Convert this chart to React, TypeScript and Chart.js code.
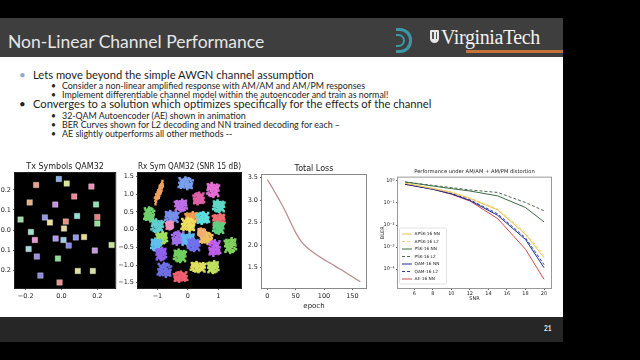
import React, { useEffect, useRef } from "react";
import { Chart, registerables } from "chart.js";
Chart.register(...registerables);

const MPL_FONT = "'DejaVu Sans', sans-serif";

// ---------- Slide text ----------
const SLIDE_TITLE = "Non-Linear Channel Performance";
const SLIDE_NUMBER = "21";
const BULLETS: [number, number, string][] = [
  [0, 75, "Lets move beyond the simple AWGN channel assumption"],
  [1, 86, "Consider a non-linear amplified response with AM/AM and AM/PM responses"],
  [1, 95, "Implement differentiable channel model within the autoencoder and train as normal!"],
  [0, 104, "Converges to a solution which optimizes specifically for the effects of the channel"],
  [1, 116, "32-QAM Autoencoder (AE) shown in animation"],
  [1, 125, "BER Curves shown for L2 decoding and NN trained decoding for each \u2013"],
  [1, 134, "AE slightly outperforms all other methods --"],
];

// ---------- Tx symbols ----------
const TX_X = [-0.015, -0.142, 0.029, 0.167, 0.071, -0.178, -0.035, 0.193, -0.229, -0.093, -0.065, 0.024, 0.087, 0.2, 0.2, 0.014, -0.171, -0.149, -0.033, 0.011, 0.08, 0.126, 0.04, -0.184, 0.28, 0.186, -0.138, -0.02, 0.091, 0.175, -0.118, -0.011];
const TX_Y = [0.255, 0.225, 0.232, 0.217, 0.168, 0.138, 0.127, 0.128, 0.052, 0.063, 0.038, 0.042, 0.07, 0.065, 0.032, 0.007, -0.01, -0.05, -0.043, -0.05, -0.037, -0.035, -0.078, -0.095, -0.075, -0.103, -0.133, -0.143, -0.205, -0.205, -0.228, -0.262];
const TX_COLORS = ["#8ab0e8", "#e8a090", "#d8e890", "#e890b8", "#e88898", "#e8b080", "#c890e0", "#90e0b0", "#a0d8a0", "#9098e8", "#e8e098", "#e89080", "#90e0d0", "#e88080", "#98e098", "#e8d8a0", "#a0e0c8", "#e898d0", "#b098e8", "#a0c8e8", "#9898e8", "#e8d890", "#8888e8", "#a0d8e0", "#c8e098", "#c898e0", "#9890e0", "#90d898", "#e0e0a0", "#d0e0a0", "#9088e0", "#e89090"];
const TX_X_TICKS = [-0.2, 0, 0.2];
const TX_Y_TICKS = [-0.2, -0.1, 0, 0.1, 0.2];

// ---------- Rx symbols (cluster centres) ----------
const RX_CX = [-0.07, 0.83, -0.95, 0.36, -0.23, 1.02, -1.27, -0.53, 0.12, 0.5, 1.02, 1.01, 0.01, -1.0, -0.86, -0.32, 0.01, 0.2, 0.61, -1.04, -0.88, 0.88, 1.4, -0.26, -0.77, 0.34, 0.83, -0.24, -0.6, 0.45];
const RX_CY = [1.31, 1.12, 1.05, 0.88, 0.68, 0.66, 0.43, 0.36, 0.33, 0.33, 0.28, 0.05, 0.14, 0.1, -0.24, -0.24, -0.28, -0.43, -0.24, -0.43, -0.69, -0.52, -0.45, -0.74, -1.14, -1.06, -1.06, -1.33, 0.12, -0.08];
const RX_COLORS = ["#7aa0f0", "#e870d8", "#f0a060", "#e060a8", "#c070e8", "#60d8c8", "#70d070", "#7890f0", "#f0a050", "#60e0e0", "#f07070", "#60d080", "#f0e060", "#60d0d0", "#a0e060", "#a070f0", "#60b8f0", "#7070f0", "#f0c060", "#60c0f0", "#9060f0", "#c060f0", "#80d060", "#70d060", "#7070e8", "#e0e060", "#c0e060", "#f06070", "#f090c0", "#f0b070"];
const RX_SX = [0.21, 0.18, 0.12, 0.16, 0.18, 0.17, 0.15, 0.2, 0.18, 0.18, 0.18, 0.16, 0.2, 0.18, 0.16, 0.18, 0.19, 0.18, 0.18, 0.15, 0.15, 0.17, 0.17, 0.18, 0.2, 0.22, 0.16, 0.2, 0.1, 0.1];
const RX_SY = [0.15, 0.18, 0.13, 0.15, 0.15, 0.15, 0.18, 0.15, 0.15, 0.15, 0.15, 0.15, 0.17, 0.17, 0.15, 0.17, 0.16, 0.16, 0.15, 0.16, 0.16, 0.2, 0.19, 0.16, 0.18, 0.13, 0.15, 0.13, 0.1, 0.1];
const RX_SHEAR = [0, 0, 0.22, 0, 0, 0, 0, 0, 0, 0, 0, 0, 0, 0, 0, 0, 0, 0, 0, 0, 0, 0, 0, 0, 0, 0, 0, 0, 0, 0];
const RX_NOISE: [number, number][] = [[0, 0], [0.5, 0.2], [-0.4, 0.3], [0.2, -0.6], [-0.7, -0.2], [0.8, -0.4], [-0.2, 0.8], [0.3, 0.5], [-0.5, -0.6], [0.9, 0.3], [-0.9, 0.5], [0.1, -0.9], [0.6, 0.8], [-0.3, -0.3], [0.4, -0.2], [-0.6, 0.1], [0.0, 0.4], [0.7, -0.8], [-0.8, -0.7], [0.2, 0.9], [-0.1, -0.5], [1.0, 0.0], [-1.0, -0.1], [0.5, -0.7], [-0.4, 0.7], [0.3, 0.1], [-0.2, 0.2], [0.6, 0.4], [-0.6, -0.4], [0.1, 0.6], [0.85, 0.65], [-0.75, 0.85], [0.45, -0.95], [-0.15, -0.85], [0.15, -0.25], [-0.45, -0.05], [0.35, 0.75], [-0.85, 0.25], [0.7, 0.1], [-0.3, -0.75], [0.05, 0.25], [-0.55, 0.5], [1.1, -0.55], [-1.1, 0.7], [0.25, 1.1], [-0.05, -1.1], [0.95, 0.9], [-0.95, -0.95]];
const RX_X_TICKS = [-1, 0, 1];
const RX_Y_TICKS = [-1.5, -1, -0.5, 0, 0.5, 1, 1.5];

// ---------- Total loss ----------
const LOSS_EPOCH = [0, 10, 20, 30, 40, 50, 60, 70, 80, 90, 100, 110, 120, 130, 140, 150, 160, 164];
const LOSS_VALUE = [3.46, 3.25, 3.03, 2.8, 2.54, 2.28, 2.08, 1.95, 1.85, 1.76, 1.68, 1.61, 1.53, 1.46, 1.38, 1.3, 1.22, 1.19];
const LOSS_X_TICKS = [0, 50, 100, 150];
const LOSS_Y_TICKS = [1.5, 2, 2.5, 3, 3.5];

// ---------- BLER curves ----------
const SNR = [5, 8, 10, 12, 15, 18, 20];
const APSK_NN = [0.79, 0.45, 0.3, 0.16, 0.048, 0.0038, 0.00033];
const APSK_L2 = [0.79, 0.46, 0.32, 0.17, 0.054, 0.0045, 0.00042];
const PSK_NN = [0.9, 0.59, 0.45, 0.35, 0.21, 0.062, 0.0138];
const PSK_L2 = [0.9, 0.63, 0.5, 0.39, 0.3, 0.105, 0.044];
const QAM_NN = [0.71, 0.42, 0.26, 0.13, 0.0275, 0.0022, 0.000115];
const QAM_L2 = [0.71, 0.43, 0.275, 0.14, 0.032, 0.0026, 0.00016];
const AE_NN = [0.71, 0.42, 0.25, 0.123, 0.0195, 0.00079, 0.000034];
const SNR_TICKS = [6, 8, 10, 12, 14, 16, 18, 20];
const BLER_TICKS = [1, 0.1, 0.01, 0.001, 0.0001];
const BLER_TICK_LABELS = ["10\u2070", "10\u207B\u00B9", "10\u207B\u00B2", "10\u207B\u00B3", "10\u207B\u2074"];

// ---------- helpers ----------
const minus = (s: string) => s.replace("-", "\u2212");
const fmt1 = (v: number) => minus(v.toFixed(1));
const fmt0 = (v: number) => minus(String(Math.round(v)));

function axis(o: any) {
  return {
    type: o.type || "linear",
    min: o.min,
    max: o.max,
    afterBuildTicks: (s: any) => {
      s.ticks = o.ticks.map((v: number) => ({ value: v }));
    },
    afterFit: (s: any) => {
      if (o.horizontal) s.height = o.size;
      else s.width = o.size;
    },
    ticks: {
      autoSkip: false,
      maxRotation: 0,
      minRotation: 0,
      padding: o.pad ?? 2,
      color: "#262626",
      font: { family: MPL_FONT, size: o.fontSize },
      callback: (v: any) => o.label(Number(v)),
    },
    grid: { display: true, drawOnChartArea: false, drawTicks: true, tickLength: o.tickLength ?? 2, tickColor: "#333", lineWidth: 0.8 },
    border: { display: false },
    title: o.title
      ? { display: true, text: o.title, color: "#262626", font: { family: MPL_FONT, size: o.titleSize }, padding: o.titlePadding }
      : { display: false },
  };
}

function framePlugin(id: string, bg: string, frame: string) {
  return {
    id,
    beforeDatasetsDraw(chart: any) {
      const { ctx, chartArea: a } = chart;
      ctx.save();
      ctx.fillStyle = bg;
      ctx.fillRect(a.left, a.top, a.right - a.left, a.bottom - a.top);
      ctx.restore();
    },
    afterDatasetsDraw(chart: any) {
      const { ctx, chartArea: a } = chart;
      ctx.save();
      ctx.strokeStyle = frame;
      ctx.lineWidth = 1;
      ctx.strokeRect(a.left - 0.5, a.top - 0.5, a.right - a.left + 1, a.bottom - a.top + 1);
      ctx.restore();
    },
  };
}

const berLegendPlugin = {
  id: "berLegend",
  afterDraw(chart: any) {
    const { ctx, chartArea: a } = chart;
    const ds = chart.data.datasets;
    const row = 7.5;
    const h = 56;
    const w = 47;
    const x0 = a.left + 1.5;
    const y0 = a.bottom - 4 - h;
    ctx.save();
    ctx.beginPath();
    ctx.roundRect(x0, y0, w, h, 1.5);
    ctx.fillStyle = "rgba(255,255,255,0.85)";
    ctx.fill();
    ctx.strokeStyle = "#d0d0d0";
    ctx.lineWidth = 0.6;
    ctx.stroke();
    ctx.font = "4.3px " + MPL_FONT;
    ctx.textBaseline = "middle";
    ds.forEach((d: any, i: number) => {
      const y = y0 + 6 + i * row;
      ctx.beginPath();
      ctx.setLineDash(d.borderDash || []);
      ctx.strokeStyle = d.borderColor;
      ctx.lineWidth = 1;
      ctx.moveTo(x0 + 2.5, y);
      ctx.lineTo(x0 + 12.5, y);
      ctx.stroke();
      ctx.setLineDash([]);
      ctx.fillStyle = "#222";
      ctx.fillText(d.label, x0 + 15, y);
    });
    ctx.restore();
  },
};

function titleOpts(text: string, size: number, top: number, bottom: number) {
  return {
    display: true,
    text,
    fullSize: false,
    color: "#222",
    font: { family: MPL_FONT, size, weight: "normal" as const, lineHeight: 1.2 },
    padding: { top, bottom },
  };
}

function ChartBox({ left, top, width, height, make }: { left: number; top: number; width: number; height: number; make: () => any }) {
  const ref = useRef<HTMLCanvasElement>(null);
  useEffect(() => {
    const chart = new Chart(ref.current as HTMLCanvasElement, make());
    return () => chart.destroy();
  }, []);
  return (
    <div style={{ position: "absolute", left, top, width, height }}>
      <canvas ref={ref} width={width} height={height} style={{ width, height, display: "block" }} />
    </div>
  );
}

const baseOptions = {
  animation: false as const,
  responsive: false,
  events: [] as any[],
};

function makeTx() {
  return {
    type: "scatter",
    data: {
      datasets: [
        {
          data: TX_X.map((x, i) => ({ x, y: TX_Y[i] })),
          pointStyle: "rect",
          pointRadius: 3.9,
          pointBackgroundColor: TX_COLORS,
          pointBorderColor: "rgba(255,255,255,0.35)",
          pointBorderWidth: 0.8,
        },
      ],
    },
    options: {
      ...baseOptions,
      layout: { padding: { left: 0, right: 3, top: 0, bottom: 0 } },
      plugins: { legend: { display: false }, tooltip: { enabled: false }, title: titleOpts("Tx Symbols QAM32", 8, 4, 1.4) },
      scales: {
        x: axis({ min: -0.26, max: 0.3, ticks: TX_X_TICKS, label: fmt1, size: 16, fontSize: 6.5, horizontal: true }),
        y: axis({ min: -0.29, max: 0.285, ticks: TX_Y_TICKS, label: fmt1, size: 40, fontSize: 6.5 }),
      },
    },
    plugins: [framePlugin("txFrame", "#000", "#222")],
  };
}

function makeRx() {
  const pts: { x: number; y: number }[] = [];
  const cols: string[] = [];
  RX_CX.forEach((cx, i) => {
    RX_NOISE.forEach(([dx, dy]) => {
      const ddx = i % 2 ? -dx : dx;
      const ddy = i % 3 === 0 ? -dy : dy;
      pts.push({ x: cx + ddx * RX_SX[i], y: RX_CY[i] + ddy * RX_SY[i] + ddx * RX_SHEAR[i] });
      cols.push(RX_COLORS[i]);
    });
  });
  return {
    type: "scatter",
    data: {
      datasets: [
        {
          data: pts,
          pointStyle: "rect",
          pointRadius: 1.7,
          pointBackgroundColor: cols,
          pointBorderWidth: 0,
        },
      ],
    },
    options: {
      ...baseOptions,
      layout: { padding: { left: 0, right: 3, top: 0, bottom: 0 } },
      plugins: { legend: { display: false }, tooltip: { enabled: false }, title: titleOpts("Rx Sym QAM32 (SNR 15 dB)", 8, 4, 1.4) },
      scales: {
        x: axis({ min: -1.64, max: 1.75, ticks: RX_X_TICKS, label: fmt0, size: 16, fontSize: 6.5, horizontal: true }),
        y: axis({ min: -1.65, max: 1.6, ticks: RX_Y_TICKS, label: fmt1, size: 26, fontSize: 6.5 }),
      },
    },
    plugins: [framePlugin("rxFrame", "#000", "#222")],
  };
}

function makeLoss() {
  return {
    type: "line",
    data: {
      datasets: [
        {
          data: LOSS_EPOCH.map((x, i) => ({ x, y: LOSS_VALUE[i] })),
          borderColor: "#b98a8a",
          borderWidth: 1.2,
          pointRadius: 0,
          cubicInterpolationMode: "monotone",
        },
      ],
    },
    options: {
      ...baseOptions,
      layout: { padding: { left: 0, right: 3, top: 0, bottom: 0 } },
      plugins: { legend: { display: false }, tooltip: { enabled: false }, title: titleOpts("Total Loss", 8, 5, 1.4) },
      scales: {
        x: axis({ min: -9.4, max: 174, ticks: LOSS_X_TICKS, label: fmt0, size: 26, fontSize: 6.5, horizontal: true, title: "epoch", titleSize: 7, titlePadding: { top: 0, bottom: 3.8 } }),
        y: axis({ min: 1.05, max: 3.56, ticks: LOSS_Y_TICKS, label: fmt1, size: 22, fontSize: 6.5 }),
      },
    },
    plugins: [framePlugin("lossFrame", "#fff", "#888")],
  };
}

function makeBer() {
  const mk = (label: string, data: number[], color: string, dash?: number[]) => ({
    label,
    data: SNR.map((x, i) => ({ x, y: data[i] })),
    borderColor: color,
    borderWidth: 1,
    borderDash: dash || [],
    pointRadius: 0,
    tension: 0,
  });
  return {
    type: "line",
    data: {
      datasets: [
        mk("APSK-16 NN", APSK_NN, "#e9c24a"),
        mk("APSK-16 L2", APSK_L2, "#f0d27a", [3, 2]),
        mk("PSK-16 NN", PSK_NN, "#3d6b45"),
        mk("PSK-16 L2", PSK_L2, "#4f6a55", [3, 2]),
        mk("QAM-16 NN", QAM_NN, "#1c2a96"),
        mk("QAM-16 L2", QAM_L2, "#2c3aa6", [3, 2]),
        mk("AE-16 NN", AE_NN, "#d24c4c"),
      ],
    },
    options: {
      ...baseOptions,
      layout: { padding: { left: 0, right: 3, top: 0, bottom: 0 } },
      plugins: { legend: { display: false }, tooltip: { enabled: false }, title: titleOpts("Performance under AM/AM + AM/PM distortion", 5.2, 4.7, 2.7) },
      scales: {
        x: axis({ min: 4.25, max: 20.75, ticks: SNR_TICKS, label: fmt0, size: 26, fontSize: 5, horizontal: true, pad: 1, title: "SNR", titleSize: 5, titlePadding: { top: 0, bottom: 12 } }),
        y: axis({ type: "logarithmic", min: Math.pow(10, -4.86), max: Math.pow(10, 0.15), ticks: BLER_TICKS, label: (v: number) => BLER_TICK_LABELS[BLER_TICKS.indexOf(v)] ?? "", size: 26, fontSize: 5, pad: 1.5, title: "BLER", titleSize: 5, titlePadding: { top: 8, bottom: 0 } }),
      },
    },
    plugins: [framePlugin("berFrame", "#fff", "#999"), berLegendPlugin],
  };
}

export default function App() {
  return (
    <div style={{ position: "fixed", left: 0, top: 0, width: 640, height: 360, background: "#000", overflow: "hidden", fontFamily: "Lato, 'Open Sans', sans-serif" }}>
      {/* slide body */}
      <div style={{ position: "absolute", left: 0, top: 18, width: 563, height: 324, background: "#fff" }} />
      {/* header */}
      <div style={{ position: "absolute", left: 0, top: 18, width: 563, height: 39, background: "#3e3e3e" }} />
      <div style={{ position: "absolute", left: 466, top: 50, width: 97, height: 3, background: "#c6733a" }} />
      <div style={{ position: "absolute", left: 8, top: 30, fontSize: 17.5, lineHeight: "24px", color: "#e6e6e6", whiteSpace: "nowrap" }}>{SLIDE_TITLE}</div>
      {/* D logo */}
      <div style={{ position: "absolute", left: 396, top: 28, width: 13, height: 19, border: "3px solid #3a98a6", borderLeft: "none", borderRadius: "0 12px 12px 0" }} />
      <div style={{ position: "absolute", left: 396, top: 33.5, width: 7, height: 9, border: "2px solid #3a98a6", borderLeft: "none", borderRadius: "0 7px 7px 0" }} />
      {/* shield */}
      <div style={{ position: "absolute", left: 430, top: 30, width: 9, height: 13, background: "#e8e8e8", borderRadius: "1px 1px 5px 5px" }} />
      <div style={{ position: "absolute", left: 432, top: 32, width: 1.5, height: 7, background: "#555" }} />
      <div style={{ position: "absolute", left: 435.5, top: 32, width: 1.5, height: 7, background: "#555" }} />
      <div style={{ position: "absolute", left: 441, top: 24, fontFamily: "'Liberation Serif', 'DejaVu Serif', serif", fontSize: 20, lineHeight: "26px", color: "#f2f2f2", letterSpacing: -0.4, whiteSpace: "nowrap" }}>VirginiaTech</div>
      {/* bullets */}
      {BULLETS.map(([lvl, y, text], i) => (
        <React.Fragment key={i}>
          <div style={{ position: "absolute", left: lvl === 0 ? 19 : 51, top: y - 8, fontSize: lvl === 0 ? 11.5 : 8.5, lineHeight: "16px", color: lvl === 0 && i === 0 ? "#8ea8c6" : "#222" }}>{"\u2022"}</div>
          <div style={{ position: "absolute", left: lvl === 0 ? 33 : 62, top: y - 8, fontSize: lvl === 0 ? 11.2 : 8.9, lineHeight: "16px", color: "#1e1e1e", whiteSpace: "nowrap" }}>{text}</div>
        </React.Fragment>
      ))}
      {/* footer */}
      <div style={{ position: "absolute", left: 0, top: 317, width: 563, height: 25, background: "#262626" }} />
      <div style={{ position: "absolute", left: 544, top: 324, fontSize: 6.5, fontWeight: 700, lineHeight: "10px", color: "#eee" }}>{SLIDE_NUMBER}</div>
      {/* charts */}
      <ChartBox left={-25} top={158} width={145} height={146} make={makeTx} />
      <ChartBox left={112} top={158} width={133} height={146} make={makeRx} />
      <ChartBox left={240} top={159} width={129} height={155} make={makeLoss} />
      <ChartBox left={372} top={164} width={182} height={150} make={makeBer} />
    </div>
  );
}
